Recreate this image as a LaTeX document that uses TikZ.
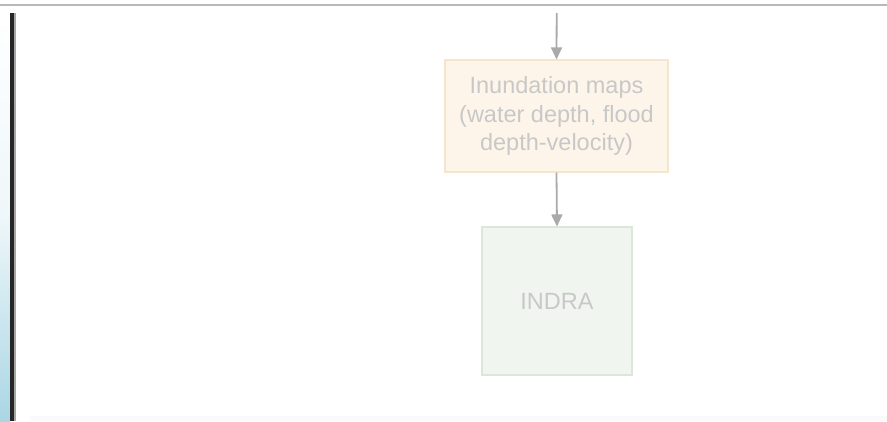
\documentclass[tikz,border=0pt]{standalone}
\usepackage{fontspec}
\setmainfont{Liberation Sans}
\usetikzlibrary{arrows.meta}
\definecolor{txtgray}{RGB}{200,200,200}
\definecolor{arrowgray}{RGB}{170,170,170}
\definecolor{peachfill}{RGB}{253,245,234}
\definecolor{peachline}{RGB}{246,229,205}
\definecolor{greenfill}{RGB}{240,245,239}
\definecolor{greenline}{RGB}{220,230,218}
\definecolor{stripblue}{RGB}{170,214,228}
\tikzset{
  flowbox/.style={draw, line width=1.1pt, align=center, inner sep=0pt,
    text=txtgray, font=\fontsize{23.5}{28.5}\selectfont},
  flowarrow/.style={draw=arrowgray, line width=1.8pt,
    -{Triangle[length=12pt,width=11pt]}, arrowgray}
}
\begin{document}
\begin{tikzpicture}[x=1pt,y=-1pt]
\useasboundingbox (0,0) rectangle (887,421);
\fill[white] (0,0) rectangle (887,421);
% faint band along the bottom edge
\fill[black!2] (30,416) rectangle (887,421);
% left gradient strip and dark rule
\shade[top color=white, bottom color=stripblue, middle color=white!80!stripblue]
  (0,13) rectangle (10,421);
\fill[black!85] (10,13) rectangle (14,421);
\fill[black!35] (14,13) rectangle (15.5,421);
% top rule
\fill[black!28] (0,3.5) rectangle (887,6);
% boxes
\node[flowbox, fill=peachfill, draw=peachline, minimum width=223pt, minimum height=112pt]
  (inund) at (556.5,116) {Inundation maps\\(water depth, flood\\depth-velocity)};
\node[flowbox, fill=greenfill, draw=greenline, minimum width=150pt, minimum height=148pt]
  (indra) at (557,301) {INDRA};
\coordinate (src) at (556.7,13);
% connectors
\draw[flowarrow] (src) -- (inund.north);
\draw[flowarrow] (inund.south) -- (indra.north);
\end{tikzpicture}
\end{document}
